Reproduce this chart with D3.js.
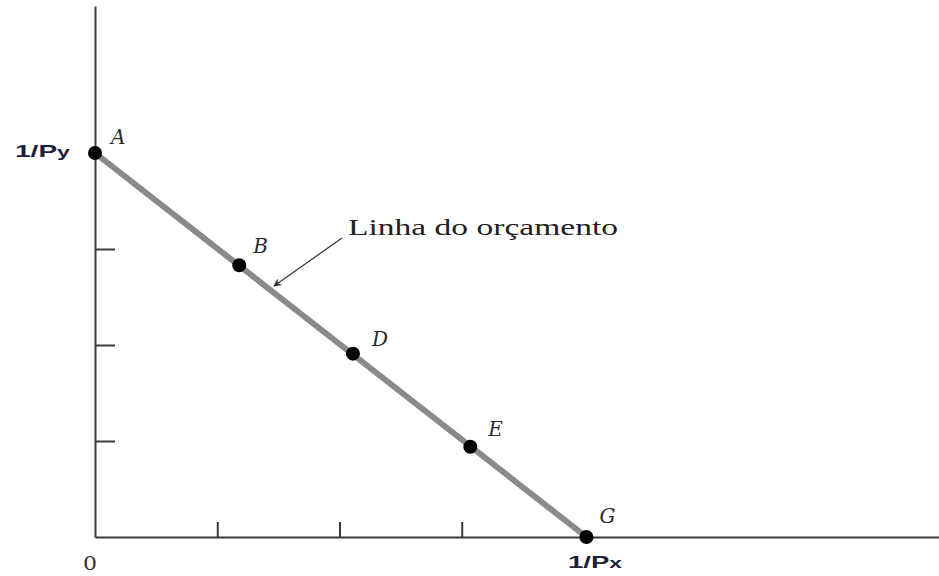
<!DOCTYPE html>
<html>
<head>
<meta charset="utf-8">
<script src="https://cdn.jsdelivr.net/npm/d3@7"></script>
<style>
html,body{margin:0;padding:0;background:#fff;}
svg{display:block;}
</style>
</head>
<body>
<svg id="chart" width="939" height="576"></svg>
<script>
// ---- data ----
const pointLabels = ["A", "B", "D", "E", "G"];
const pointX = [0, 1.18, 2.11, 3.07, 4.02];
const pointY = [4, 2.83, 1.91, 0.94, 0];
const xTicks = [1, 2, 3];
const yTicks = [1, 2, 3];
const xMax = 6.9;
const yMax = 5.53;
const lineLabel = "Linha do orçamento";
const originLabel = "0";

// ---- layout ----
const svg = d3.select("#chart");
const x0 = 95, y0 = 537;
const x = d3.scaleLinear().domain([0, xMax]).range([x0, x0 + 122.25 * xMax]);
const y = d3.scaleLinear().domain([0, yMax]).range([y0, y0 - 96 * yMax]);

const axisColor = "#3a3a3a";

// x axis
const gx = svg.append("g").attr("transform", `translate(0,${y0})`)
  .call(d3.axisBottom(x).tickValues(xTicks).tickSizeInner(-15).tickSizeOuter(0).tickFormat(""));
gx.select(".domain").attr("stroke", axisColor).attr("stroke-width", 2);
gx.selectAll(".tick line").attr("stroke", axisColor).attr("stroke-width", 2);

// y axis
const gy = svg.append("g").attr("transform", `translate(${x0},0)`)
  .call(d3.axisLeft(y).tickValues(yTicks).tickSizeInner(-20).tickSizeOuter(0).tickFormat(""));
gy.select(".domain").attr("stroke", axisColor).attr("stroke-width", 2);
gy.selectAll(".tick line").attr("stroke", axisColor).attr("stroke-width", 2);

// budget line
const pts = pointX.map((v, i) => ({x: v, y: pointY[i], label: pointLabels[i]}));
svg.append("path")
  .datum([pts[0], pts[pts.length - 1]])
  .attr("d", d3.line().x(d => x(d.x)).y(d => y(d.y)))
  .attr("stroke", "#8a8a8a").attr("stroke-width", 6).attr("fill", "none");

// points
svg.selectAll("circle.pt").data(pts).enter().append("circle")
  .attr("class", "pt")
  .attr("cx", d => x(d.x)).attr("cy", d => y(d.y)).attr("r", 7)
  .attr("fill", "#000");

// point labels
const labelOffsets = {A: [16, -9], B: [14, -12], D: [19, -8], E: [18, -11], G: [13, -14]};
svg.selectAll("text.pl").data(pts).enter().append("text")
  .attr("class", "pl")
  .attr("x", d => x(d.x) + labelOffsets[d.label][0])
  .attr("y", d => y(d.y) + labelOffsets[d.label][1])
  .attr("font-family", "'DejaVu Serif', 'Liberation Serif', serif")
  .attr("font-style", "italic")
  .attr("font-size", 20)
  .attr("fill", "#2a2a2a")
  .text(d => d.label);

// axis value labels
const lblColor = "#1e1e40";
const py = svg.append("text").attr("x", 15).attr("y", 157)
  .attr("font-family", "'Liberation Sans', Arial, sans-serif").attr("font-weight", "bold")
  .attr("font-size", 17).attr("fill", lblColor)
  .attr("textLength", 55).attr("lengthAdjust", "spacingAndGlyphs");
py.append("tspan").text("1/P");
py.append("tspan").attr("font-size", 14).text("y");

const px = svg.append("text").attr("x", 568).attr("y", 568)
  .attr("font-family", "'Liberation Sans', Arial, sans-serif").attr("font-weight", "bold")
  .attr("font-size", 17).attr("fill", lblColor)
  .attr("textLength", 54).attr("lengthAdjust", "spacingAndGlyphs");
px.append("tspan").text("1/P");
px.append("tspan").attr("font-size", 14).text("x");

svg.append("text").attr("x", 83).attr("y", 570)
  .attr("font-family", "'DejaVu Serif', 'Liberation Serif', serif").attr("font-size", 18)
  .attr("textLength", 14).attr("lengthAdjust", "spacingAndGlyphs")
  .attr("fill", "#333").text(originLabel);

// annotation
svg.append("text").attr("x", 348).attr("y", 235)
  .attr("font-family", "'Liberation Serif', 'DejaVu Serif', serif")
  .attr("font-size", 23).attr("fill", "#222")
  .attr("textLength", 270).attr("lengthAdjust", "spacingAndGlyphs")
  .text(lineLabel);

svg.append("defs").append("marker")
  .attr("id", "arrow").attr("viewBox", "0 0 10 10")
  .attr("refX", 9).attr("refY", 5)
  .attr("markerWidth", 12).attr("markerHeight", 8)
  .attr("markerUnits", "userSpaceOnUse")
  .attr("orient", "auto")
  .append("path").attr("d", "M0,0 L10,5 L0,10 L3,5 Z").attr("fill", "#333");

svg.append("line")
  .attr("x1", 342).attr("y1", 238).attr("x2", 274).attr("y2", 286)
  .attr("stroke", "#333").attr("stroke-width", 1.2)
  .attr("marker-end", "url(#arrow)");
</script>
</body>
</html>
